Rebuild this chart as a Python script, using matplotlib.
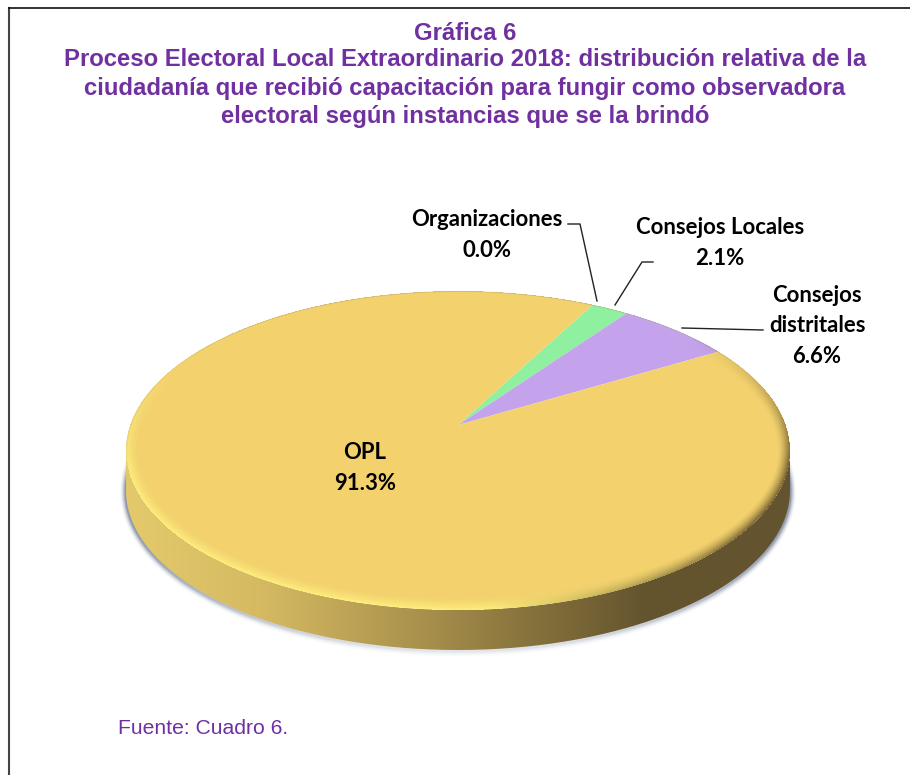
import numpy as np
import matplotlib
matplotlib.use("Agg")
import matplotlib.pyplot as plt
from matplotlib.colors import LinearSegmentedColormap
from matplotlib.patches import PathPatch
from matplotlib.path import Path

categories = ["Organizaciones", "Consejos Locales", "Consejos\ndistritales", "OPL"]
values = [0.0, 2.1, 6.6, 91.3]
slice_colors = ["#F3D26E", "#8FF0A0", "#C4A3EC", "#F3D26E"]

title_lines = [
    "Gráfica 6",
    "Proceso Electoral Local Extraordinario 2018: distribución relativa de la",
    "ciudadanía que recibió capacitación para fungir como observadora",
    "electoral según instancias que se la brindó",
]
source = "Fuente: Cuadro 6."

W, H = 910, 775
cx, apex_y = 458, 425
a_p, b_p, k = 327.7, 155.4, 0.16
depth = 40
start_deg = 28


def project(theta):
    # theta clockwise from the far side of the disc, perspective on v
    u = np.sin(theta)
    v = np.cos(theta)
    w = 1 + k * v
    return cx + a_p * u / w, apex_y - b_p * v / w


fig = plt.figure(figsize=(W / 100, H / 100), dpi=100)
ax = fig.add_axes([0, 0, 1, 1])
ax.set_xlim(0, W)
ax.set_ylim(H, 0)
ax.axis("off")

# outer frame, only left and top
ax.plot([9, 9], [H, 7.5], color="#444444", lw=1.5)
ax.plot([9, W], [7.5, 7.5], color="#111111", lw=1.2)

t = np.linspace(0, 2 * np.pi, 721)
rim_x, rim_y = project(t)

ex0 = (rim_x.max() + rim_x.min()) / 2
ey0 = (rim_y.max() + rim_y.min()) / 2
ea = (rim_x.max() - rim_x.min()) / 2
eb = (rim_y.max() - rim_y.min()) / 2
xx, yy = np.meshgrid(np.arange(W) + 0.5, np.arange(H) + 0.5)

# soft shadow behind the side, stronger at the two ends
sr = np.hypot((xx - ex0) / (ea + 1), (yy - ey0 - depth - 1) / (eb + 1))
sgrad = np.hypot((xx - ex0) / (ea + 1) ** 2, (yy - ey0 - depth - 1) / (eb + 1) ** 2) / np.maximum(sr, 1e-6)
sd = (sr - 1) / np.maximum(sgrad, 1e-6)
shadow = np.zeros((H, W, 4))
shadow[..., :3] = [0.42, 0.47, 0.56]
ends = 0.25 + 0.75 * np.clip(np.abs(xx - ex0) / ea, 0, 1) ** 2
shadow[..., 3] = 0.75 * ends * np.clip(1 - sd / 6, 0, 1) ** 2 * (yy > ey0 + 5)
ax.imshow(shadow, extent=[0, W, H, 0], aspect="auto", zorder=1, interpolation="bilinear")

# side of the disc
side_cmap = LinearSegmentedColormap.from_list(
    "side", [(0, "#E4C96C"), (0.2, "#D6BA62"), (0.42, "#AE954F"), (0.62, "#84703B"),
             (0.78, "#65552F"), (1, "#63532E")]
)
grad = np.linspace(0, 1, 700).reshape(1, -1)
side_img = ax.imshow(grad, extent=[rim_x.min(), rim_x.max(), rim_y.max() + depth, rim_y.min()],
                     cmap=side_cmap, aspect="auto", zorder=2)
# front half of the rim, then back along the same curve shifted down
i_r = np.argmax(rim_x)
i_l = np.argmin(rim_x)
front_x = rim_x[i_r:i_l + 1]
front_y = rim_y[i_r:i_l + 1]
verts = np.column_stack([np.r_[front_x, front_x[::-1]], np.r_[front_y, front_y[::-1] + depth]])
side_clip = PathPatch(Path(verts, closed=False), transform=ax.transData, fc="none", ec="none")
ax.add_patch(side_clip)
side_img.set_clip_path(side_clip)
ax.set_xlim(0, W)
ax.set_ylim(H, 0)

# top face slices
cum = start_deg
for val, col in zip(values, slice_colors):
    th = np.radians(np.linspace(cum, cum + val * 3.6, 400))
    x, y = project(th)
    ax.fill(np.r_[cx, x], np.r_[apex_y, y], color=col, lw=0, zorder=3)
    cum += val * 3.6

# bevel along the rim, width measured in pixels from the edge
nx = (xx - ex0) / ea
ny = (yy - ey0) / eb
r = np.hypot(nx, ny)
rgrad = np.hypot(nx / ea, ny / eb) / np.maximum(r, 1e-6)
dist = (1 - r) / np.maximum(rgrad, 1e-6)
band = np.clip(1 - dist / 13, 0, 1) * (r <= 1.0)
light = np.clip(ny + 0.5, 0, 1) * np.clip(0.9 - nx, 0, 1)
dark = np.clip(nx - 0.1, 0, 1) * np.clip(0.7 + ny, 0, 1)
edge = np.clip(1 - dist / 2, 0, 1) * (r <= 1.0) * np.clip(-ny + 0.2, 0, 1)
mix = np.clip(dark / (dark + light + 1e-6), 0, 1)
rgba = np.zeros((H, W, 4))
rgba[..., 0] = (1 - mix) * 1.0 + mix * 0.42
rgba[..., 1] = (1 - mix) * 0.95 + mix * 0.34
rgba[..., 2] = (1 - mix) * 0.50 + mix * 0.16
rgba[..., 3] = band ** 1.6 * np.clip(light * 1.5 + dark * 1.3, 0, 0.9)
rgba[..., :3] = rgba[..., :3] * (1 - edge[..., None]) + np.array([0.45, 0.40, 0.30]) * edge[..., None]
rgba[..., 3] = np.maximum(rgba[..., 3], edge * 0.35)
ax.imshow(rgba, extent=[0, W, H, 0], aspect="auto", zorder=4, interpolation="bilinear")

# labels
label_font = "Lato"
label_pos = [(487, 235), (720, 243), (817, 326), (365, 468)]
for name, val, (lx, ly) in zip(categories, values, label_pos):
    ax.text(lx, ly, f"{name}\n{val:.1f}%", ha="center", va="center", family=label_font,
            fontweight="bold", fontsize=15.9, color="black", linespacing=1.54, zorder=6)

# leader lines
ax.plot([568, 580, 597], [224, 224, 301], color="#222222", lw=1, zorder=6)
ax.plot([653, 642, 615], [262, 262, 305], color="#222222", lw=1, zorder=6)
ax.plot([763, 682], [330, 328], color="#222222", lw=1, zorder=6)

# title and source
title_y = [33, 60, 88, 116]
for line, ty in zip(title_lines, title_y):
    ax.text(465, ty, line, ha="center", va="center", family="Liberation Sans",
            fontweight="bold", fontsize=17.2, color="#7030A0")
ax.text(118, 729, source, ha="left", va="center", family="Liberation Sans",
        fontsize=15.2, color="#7030A0")

fig.savefig("out.png", dpi=100)
